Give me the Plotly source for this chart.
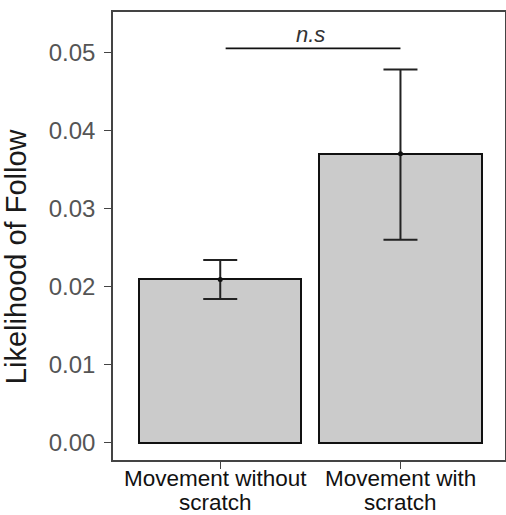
import plotly.graph_objects as go

categories = ["Movement without<br>scratch", "Movement with<br>scratch"]
likelihood = [0.0209, 0.0370]
err_upper = [0.0234, 0.0478]
err_lower = [0.0184, 0.0260]
y_ticks = [0.00, 0.01, 0.02, 0.03, 0.04, 0.05]
y_tick_labels = ["0.00", "0.01", "0.02", "0.03", "0.04", "0.05"]
y_title = "Likelihood of Follow"
sig_x = [0.03, 1.0]
sig_y = 0.0505
sig_label = "n.s"

xpos = list(range(len(categories)))
plus = [u - m for u, m in zip(err_upper, likelihood)]
minus = [m - l for m, l in zip(likelihood, err_lower)]

FONT = "Liberation Sans, Arial, sans-serif"

fig = go.Figure()
fig.add_trace(go.Bar(
    x=xpos, y=likelihood, width=0.9,
    marker=dict(color="#CBCBCB", line=dict(color="#111111", width=2)),
    error_y=dict(type="data", symmetric=False, array=plus, arrayminus=minus,
                 color="#222222", thickness=2, width=17),
    showlegend=False, hoverinfo="skip",
))
fig.add_trace(go.Scatter(
    x=xpos, y=likelihood, mode="markers",
    marker=dict(color="#111111", size=5), showlegend=False, hoverinfo="skip",
))
fig.add_trace(go.Scatter(
    x=sig_x, y=[sig_y, sig_y], mode="lines",
    line=dict(color="#111111", width=1.8), showlegend=False, hoverinfo="skip",
))

annotations = [dict(
    x=(sig_x[0] + sig_x[1]) / 2 - 0.015, y=sig_y, xref="x", yref="y",
    text="<i>" + sig_label + "</i>", showarrow=False,
    yanchor="bottom", yshift=-1,
    font=dict(family=FONT, size=22, color="#333333"),
)]
annotations.append(dict(
    x=0, y=0.455, xref="paper", yref="paper", text=y_title,
    textangle=-90, showarrow=False, xanchor="right", yanchor="middle",
    xshift=-79, font=dict(family=FONT, size=29, color="#1a1a1a"),
))
shifts = [-5, 0]
for i, cat in enumerate(categories):
    for j, line in enumerate(cat.split("<br>")):
        annotations.append(dict(
            x=xpos[i], y=0, xref="x", yref="paper", text=line,
            showarrow=False, yanchor="top", xanchor="center", borderpad=0,
            xshift=shifts[i], yshift=-5 - 24 * j,
            font=dict(family=FONT, size=22.5, color="#111111"),
        ))

fig.update_layout(
    width=506, height=515,
    margin=dict(l=113, r=1, t=12, b=55),
    paper_bgcolor="white", plot_bgcolor="white",
    bargap=0,
    annotations=annotations,
    xaxis=dict(
        range=[-0.595, 1.58], tickvals=xpos, ticktext=["", ""],
        showgrid=False, zeroline=False,
        showline=True, linecolor="#444444", linewidth=1.5, mirror=True,
        ticks="outside", ticklen=7, tickwidth=1.3, tickcolor="#444444",
    ),
    yaxis=dict(
        range=[-0.002215, 0.05515], tickvals=y_ticks, ticktext=y_tick_labels,
        showgrid=False, zeroline=False,
        showline=True, linecolor="#444444", linewidth=1.5, mirror=True,
        ticks="outside", ticklen=7, tickwidth=1.3, tickcolor="#444444",
        tickfont=dict(family=FONT, size=24, color="#555555"),
        ticklabelstandoff=4,
        automargin=False,
    ),
)

fig.write_html("out.html",
               config={"displayModeBar": False},
               post_script="document.body.style.margin='0';document.body.style.overflow='hidden';")
